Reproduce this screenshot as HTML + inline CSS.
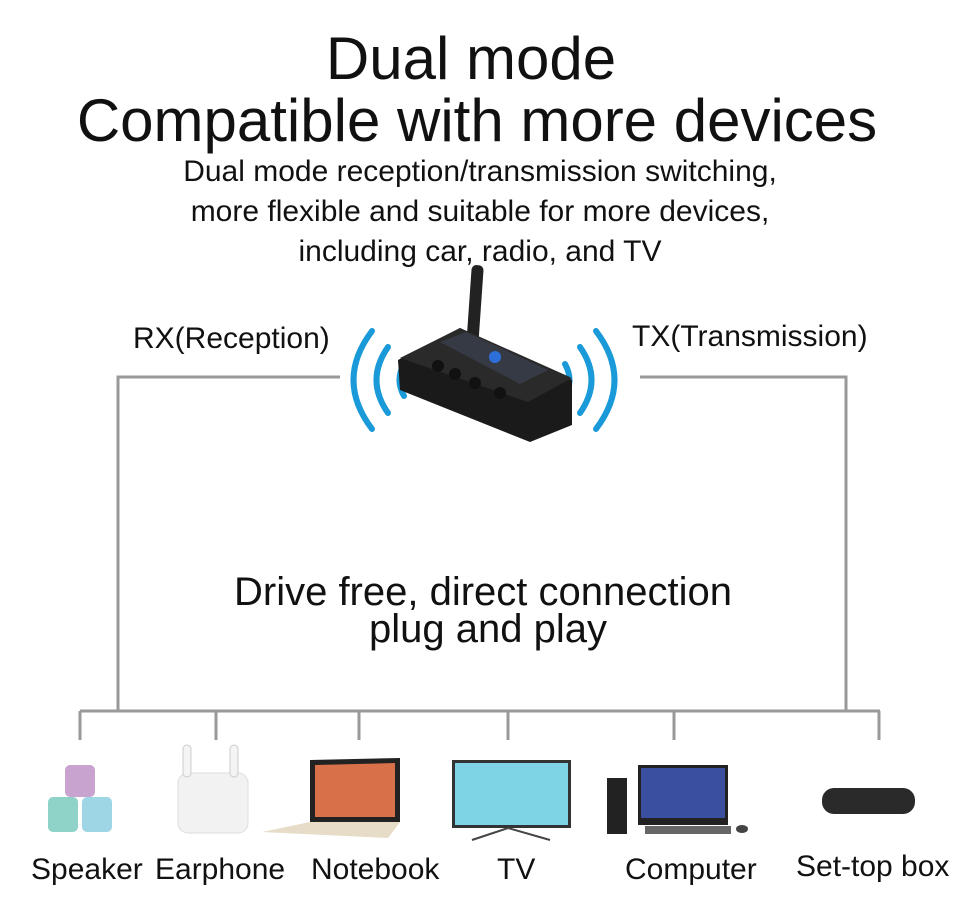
<!DOCTYPE html>
<html><head><meta charset="utf-8"><style>
html,body{margin:0;padding:0;background:#fff;}
body{width:960px;height:920px;overflow:hidden;position:relative;font-family:"Liberation Sans",Arial,sans-serif;}
.t{position:absolute;left:0;width:960px;text-align:center;color:#111;white-space:nowrap;}
.l{position:absolute;color:#111;white-space:nowrap;}
</style></head><body>
<div class="t" style="top:24px;font-size:60px;left:-9px;">Dual mode</div>
<div class="t" style="top:86px;font-size:60px;left:-3px;">Compatible with more devices</div>
<div class="t" style="top:155px;font-size:30px;">Dual mode reception/transmission switching,</div>
<div class="t" style="top:195px;font-size:30px;">more flexible and suitable for more devices,</div>
<div class="t" style="top:235px;font-size:30px;">including car, radio, and TV</div>
<div class="l" style="left:133px;top:322px;font-size:30px;">RX(Reception)</div>
<div class="l" style="left:632px;top:320px;font-size:30px;">TX(Transmission)</div>
<div class="t" style="top:570px;font-size:40px;left:3px;">Drive free, direct connection</div>
<div class="t" style="top:607px;font-size:40px;left:8px;">plug and play</div>
<div class="l" style="left:31px;top:853px;font-size:30px;">Speaker</div>
<div class="l" style="left:155px;top:853px;font-size:30px;">Earphone</div>
<div class="l" style="left:311px;top:853px;font-size:30px;">Notebook</div>
<div class="l" style="left:497px;top:853px;font-size:30px;">TV</div>
<div class="l" style="left:625px;top:853px;font-size:30px;">Computer</div>
<div class="l" style="left:796px;top:850px;font-size:30px;">Set-top box</div>
<svg width="960" height="920" style="position:absolute;left:0;top:0;" xmlns="http://www.w3.org/2000/svg">
<g stroke="#999" stroke-width="3" fill="none">
<polyline points="340,377 118,377 118,711"/>
<polyline points="640,377 846,377 846,711"/>
<line x1="80" y1="711" x2="880" y2="711"/>
<line x1="80" y1="711" x2="80" y2="740"/>
<line x1="216" y1="711" x2="216" y2="740"/>
<line x1="359" y1="711" x2="359" y2="740"/>
<line x1="508" y1="711" x2="508" y2="740"/>
<line x1="674" y1="711" x2="674" y2="740"/>
<line x1="879" y1="711" x2="879" y2="740"/>
</g>
<g stroke="#1a9ad8" stroke-width="6" fill="none" stroke-linecap="round">
<path d="M372,331 Q335,380 372,429"/>
<path d="M388,347 Q365,380 388,413"/>
<path d="M404,364 Q395,380 404,396"/>
<path d="M596,331 Q633,380 596,429"/>
<path d="M580,347 Q603,380 580,413"/>
<path d="M565,364 Q574,380 565,396"/>
</g>
<rect x="468" y="265" width="12" height="110" rx="5" fill="#222" transform="rotate(4 474 320)"/>
<path d="M398,360 L460,328 L572,380 L572,425 L530,442 L400,390 Z" fill="#1a1a1a"/>
<path d="M400,358 L460,328 L572,378 L528,402 Z" fill="#2a2a2a"/>
<path d="M440,342 L466,332 L548,370 L520,384 Z" fill="#363a44"/>
<circle cx="495" cy="357" r="6" fill="#2c6fd8"/>
<g fill="#111"><circle cx="438" cy="366" r="6"/><circle cx="455" cy="374" r="6"/><circle cx="475" cy="383" r="6"/><circle cx="500" cy="393" r="6"/></g>
<rect x="65" y="765" width="30" height="32" rx="5" fill="#c9a3cf"/>
<rect x="48" y="797" width="30" height="35" rx="5" fill="#8fd3c8"/>
<rect x="82" y="797" width="30" height="35" rx="5" fill="#9fd6e6"/>
<rect x="178" y="773" width="70" height="60" rx="10" fill="#f2f2f2" stroke="#ddd"/>
<rect x="183" y="745" width="8" height="32" rx="4" fill="#f4f4f4" stroke="#ccc"/>
<rect x="230" y="745" width="8" height="32" rx="4" fill="#f4f4f4" stroke="#ccc"/>
<polygon points="310,760 400,758 400,822 310,822" fill="#222"/>
<polygon points="315,765 395,763 395,817 315,817" fill="#d8704a"/>
<polygon points="262,832 310,822 400,822 388,838" fill="#e6dcc8"/>
<rect x="452" y="760" width="119" height="68" fill="#333"/>
<rect x="455" y="763" width="113" height="62" fill="#7ed3e4"/>
<path d="M472,840 L508,828 L550,840" stroke="#444" stroke-width="2" fill="none"/>
<rect x="607" y="778" width="20" height="56" fill="#222"/>
<rect x="638" y="765" width="90" height="60" fill="#222"/>
<rect x="641" y="768" width="84" height="50" fill="#3a4fa0"/>
<rect x="645" y="826" width="86" height="8" fill="#666"/>
<ellipse cx="742" cy="829" rx="6" ry="4" fill="#444"/>
<rect x="822" y="788" width="93" height="26" rx="12" fill="#2a2a2a"/>
</svg>
</body></html>
